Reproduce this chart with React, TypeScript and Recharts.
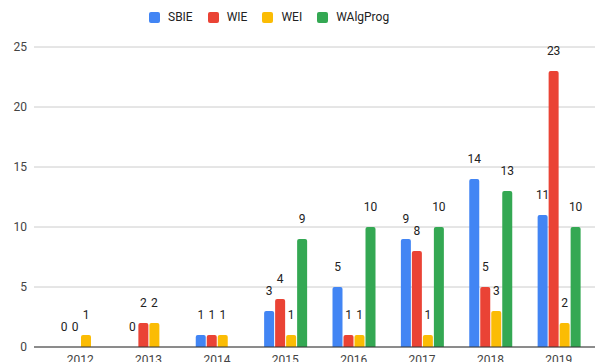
import { BarChart, Bar, XAxis, YAxis, CartesianGrid, LabelList } from "recharts";

const years = ["2012", "2013", "2014", "2015", "2016", "2017", "2018", "2019"];
const sbie = [0, 0, 1, 3, 5, 9, 14, 11];
const wie = [0, 2, 1, 4, 1, 8, 5, 23];
const wei = [1, 2, 1, 1, 1, 1, 3, 2];
const walgprog: (number | null)[] = [null, null, null, 9, 10, 10, 13, 10];
const yTicks = [0, 5, 10, 15, 20, 25];

const series = [
  { key: "SBIE", color: "#4285F4" },
  { key: "WIE", color: "#EA4335" },
  { key: "WEI", color: "#FBBC04" },
  { key: "WAlgProg", color: "#34A853" },
];

const data = years.map((year, i) => ({
  year,
  SBIE: sbie[i],
  WIE: wie[i],
  WEI: wei[i],
  WAlgProg: walgprog[i],
}));

const font = "Roboto, Arial, sans-serif";

// draws the value above the bar, zeros included
const TopLabel = (props: any) => {
  const { x, y, width, value } = props;
  if (value === null || value === undefined) return null;
  return (
    <text
      x={Number(x) + Number(width) / 2}
      y={Number(y) - 16}
      textAnchor="middle"
      fill="#222"
      fontSize={12}
      fontFamily={font}
    >
      {value}
    </text>
  );
};

// a zero bar gets a hair of height so its label is still drawn
const zeroSize = (value: any) => (value === 0 ? 0.01 : 0);

export default function App() {
  return (
    <div
      style={{
        position: "absolute",
        left: 0,
        top: 0,
        width: 595,
        height: 362,
        background: "#fff",
        fontFamily: font,
      }}
    >
      <div
        style={{
          position: "absolute",
          top: 10,
          left: 149,
          display: "flex",
          alignItems: "center",
          fontSize: 12,
          color: "#222",
        }}
      >
        {series.map((s) => (
          <div key={s.key} style={{ display: "flex", alignItems: "center", marginRight: 15 }}>
            <span
              style={{
                width: 11,
                height: 11,
                borderRadius: 2,
                background: s.color,
                marginRight: 8,
                display: "inline-block",
              }}
            />
            <span>{s.key}</span>
          </div>
        ))}
      </div>

      <BarChart
        width={595}
        height={362}
        data={data}
        margin={{ top: 47, right: 0, bottom: 0, left: 0 }}
        barCategoryGap={13}
        barGap={1}
      >
        <CartesianGrid vertical={false} stroke="#ccc" />
        <XAxis
          dataKey="year"
          height={15}
          padding={{ left: 12, right: 2 }}
          tickLine={false}
          tickSize={0}
          tickMargin={8}
          axisLine={{ stroke: "#333" }}
          tick={{ fill: "#444", fontSize: 12, fontFamily: font }}
        />
        <YAxis
          width={34}
          domain={[0, 25]}
          ticks={yTicks}
          axisLine={false}
          tickLine={false}
          tickSize={0}
          tickMargin={7}
          tick={{ fill: "#444", fontSize: 12, fontFamily: font }}
        />
        {series.map((s) => (
          <Bar
            key={s.key}
            dataKey={s.key}
            fill={s.color}
            radius={[2, 2, 0, 0]}
            minPointSize={zeroSize}
            isAnimationActive={false}
          >
            <LabelList dataKey={s.key} content={TopLabel} />
          </Bar>
        ))}
      </BarChart>
    </div>
  );
}
